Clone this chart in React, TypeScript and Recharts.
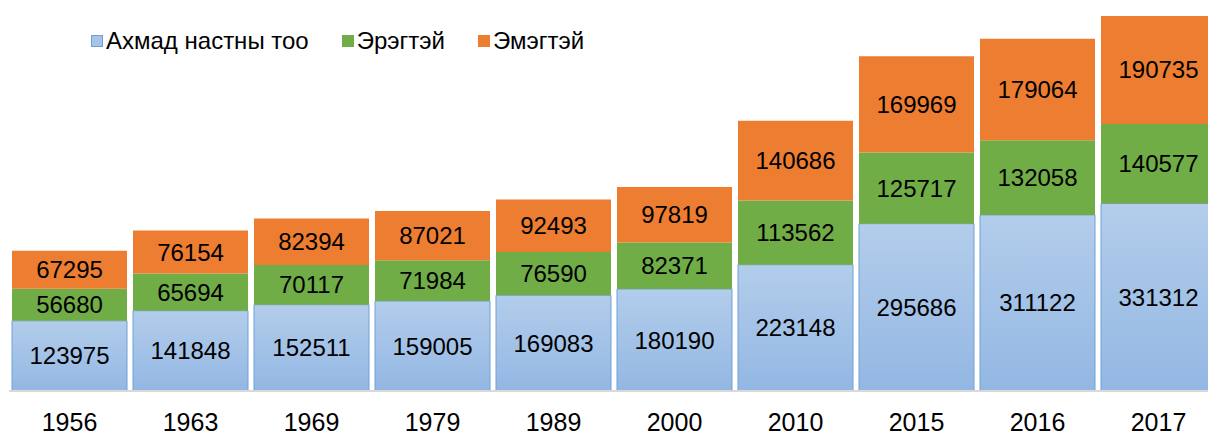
import React from 'react';
import { BarChart, Bar, XAxis, YAxis, LabelList } from 'recharts';

const years: string[] = ['1956', '1963', '1969', '1979', '1989', '2000', '2010', '2015', '2016', '2017'];
const elderly: number[] = [123975, 141848, 152511, 159005, 169083, 180190, 223148, 295686, 311122, 331312];
const male: number[] = [56680, 65694, 70117, 71984, 76590, 82371, 113562, 125717, 132058, 140577];
const female: number[] = [67295, 76154, 82394, 87021, 92493, 97819, 140686, 169969, 179064, 190735];

const data = years.map((year, i) => ({
  year,
  elderly: elderly[i],
  male: male[i],
  female: female[i],
}));

const font = '"Liberation Sans", Arial, sans-serif';

const legendItems = [
  { label: 'Ахмад настны тоо', color: '#a7c4e8', border: '#6a9fd9' },
  { label: 'Эрэгтэй', color: '#70ad47', border: '#70ad47' },
  { label: 'Эмэгтэй', color: '#ed7d31', border: '#ed7d31' },
];

const ChartLegend = () => (
  <div
    style={{
      position: 'absolute',
      top: 27,
      left: 91,
      display: 'flex',
      alignItems: 'center',
      fontFamily: font,
      fontSize: 24,
      color: '#000',
      whiteSpace: 'nowrap',
    }}
  >
    {legendItems.map((item) => (
      <div key={item.label} style={{ display: 'flex', alignItems: 'center', marginRight: 33 }}>
        <span
          style={{
            display: 'inline-block',
            width: 12,
            height: 12,
            background: item.color,
            border: `1px solid ${item.border}`,
            marginRight: 3,
            boxSizing: 'border-box',
          }}
        />
        <span>{item.label}</span>
      </div>
    ))}
  </div>
);

const App = () => {
  return (
    <div style={{ position: 'absolute', left: 0, top: 0, width: 1208, height: 435, overflow: 'hidden', background: '#fff' }}>
      <BarChart
        width={1220}
        height={435}
        data={data}
        margin={{ top: 16, right: 1, left: 9, bottom: 0 }}
        barCategoryGap={3}
        style={{ fontFamily: font }}
      >
        <defs>
          <linearGradient id="blueFill" x1="0" y1="0" x2="0" y2="1">
            <stop offset="0%" stopColor="#b3cdeb" />
            <stop offset="100%" stopColor="#93b7e3" />
          </linearGradient>
        </defs>
        <XAxis
          dataKey="year"
          height={44}
          tickLine={false}
          tickSize={0}
          tickMargin={22}
          axisLine={{ stroke: '#d9d9d9', strokeWidth: 2 }}
          tick={{ fill: '#000', fontSize: 25, fontFamily: font }}
          interval={0}
        />
        <YAxis hide domain={[0, 662624]} allowDataOverflow />
        <Bar dataKey="elderly" stackId="a" fill="url(#blueFill)" stroke="#6fa1d9" strokeWidth={1} isAnimationActive={false}>
          <LabelList dataKey="elderly" position="center" fill="#000" fontSize={24} fontFamily={font} />
        </Bar>
        <Bar dataKey="male" stackId="a" fill="#70ad47" isAnimationActive={false}>
          <LabelList dataKey="male" position="center" fill="#000" fontSize={24} fontFamily={font} />
        </Bar>
        <Bar dataKey="female" stackId="a" fill="#ed7d31" isAnimationActive={false}>
          <LabelList dataKey="female" position="center" fill="#000" fontSize={24} fontFamily={font} />
        </Bar>
      </BarChart>
      <ChartLegend />
    </div>
  );
};

export default App;
